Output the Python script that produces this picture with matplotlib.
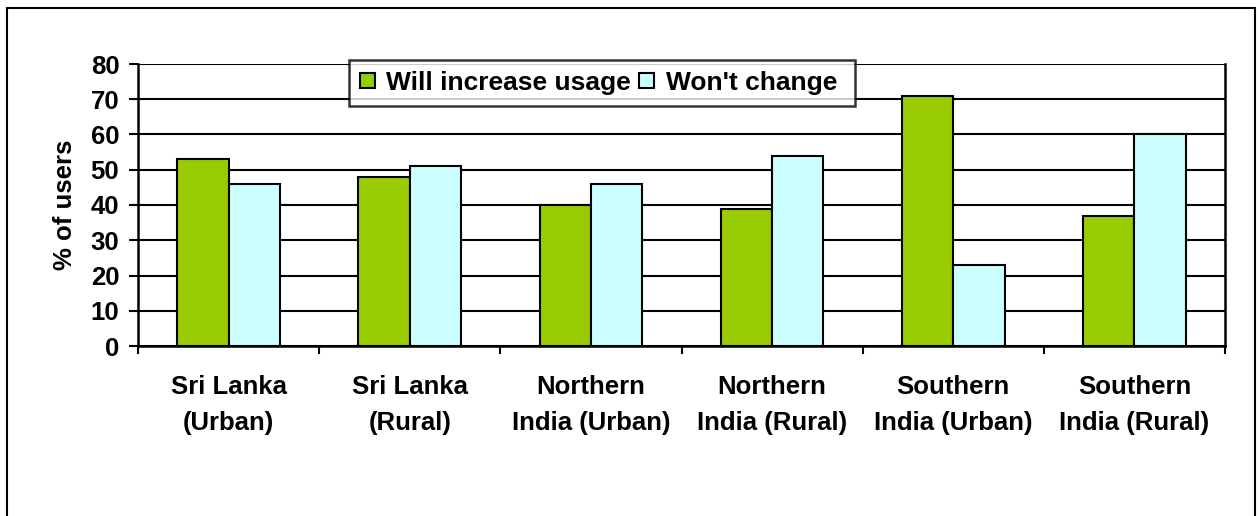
import matplotlib
matplotlib.use("Agg")
import matplotlib.pyplot as plt
import numpy as np
from matplotlib.patches import Rectangle

categories = ["Sri Lanka\n(Urban)", "Sri Lanka\n(Rural)", "Northern\nIndia (Urban)",
              "Northern\nIndia (Rural)", "Southern\nIndia (Urban)", "Southern\nIndia (Rural)"]
will_increase = [53, 48, 40, 39, 71, 37]
wont_change = [46, 51, 46, 54, 23, 60]
yticks = [0, 10, 20, 30, 40, 50, 60, 70, 80]

plt.rcParams['font.family'] = ['Liberation Sans', 'DejaVu Sans']
plt.rcParams['font.weight'] = 'bold'
FS = 18.5

fig = plt.figure(figsize=(12.59, 5.16), dpi=100)
W, H = 1259, 516
ax = fig.add_axes([138 / W, 1 - 346 / H, (1225 - 138) / W, (346 - 64) / H])

# outer border
fig.patches.append(Rectangle((7 / W, -0.01), (1255 - 7) / W, 1 - 8 / H + 0.01,
                             transform=fig.transFigure, fill=False, lw=1.5,
                             edgecolor='black'))

x = np.arange(len(categories))
bw = 0.283
ax.bar(x - bw / 2, will_increase, bw, color='#99cc00', edgecolor='black', lw=1.5,
       label='Will increase usage', zorder=3)
ax.bar(x + bw / 2, wont_change, bw, color='#ccffff', edgecolor='black', lw=1.5,
       label="Won't change ", zorder=3)

ax.set_xlim(-0.5, len(categories) - 0.5)
ax.set_ylim(0, 80)
ax.set_yticks(yticks)
ax.set_yticklabels([str(v) for v in yticks], fontsize=FS, fontweight='bold')
ax.yaxis.grid(True, color='black', lw=1.5, zorder=0)
ax.set_axisbelow(True)

ax.set_xticks(np.arange(len(categories) + 1) - 0.5, minor=False)
ax.set_xticklabels([''] * (len(categories) + 1))
ax.set_xticks(x, minor=True)
ax.set_xticklabels(categories, minor=True, fontsize=FS, fontweight='bold',
                   linespacing=1.6)
ax.tick_params(axis='x', which='minor', length=0, pad=21)
ax.tick_params(axis='x', which='major', direction='out', length=6, width=1.5)
ax.tick_params(axis='y', direction='out', length=6.5, width=1.5, pad=7)

for s in ['left', 'bottom', 'right']:
    ax.spines[s].set_linewidth(1.8)
ax.spines['top'].set_visible(False)

ax.set_ylabel('% of users', fontsize=FS, fontweight='bold', labelpad=10)

leg = ax.legend(ncol=2, loc='upper left', bbox_to_anchor=((349 - 138) / (1225 - 138), 1.015),
                fontsize=19, frameon=True, fancybox=False, edgecolor='black',
                handlelength=0.55, handleheight=0.55, handletextpad=0.45,
                columnspacing=0.3, borderpad=0.42, borderaxespad=0)
leg.get_frame().set_linewidth(1.8)
leg.set_zorder(5)
for t in leg.get_texts():
    t.set_fontweight('bold')
for p in leg.get_patches():
    p.set_linewidth(1.5)

fig.savefig('out.png', dpi=100)
